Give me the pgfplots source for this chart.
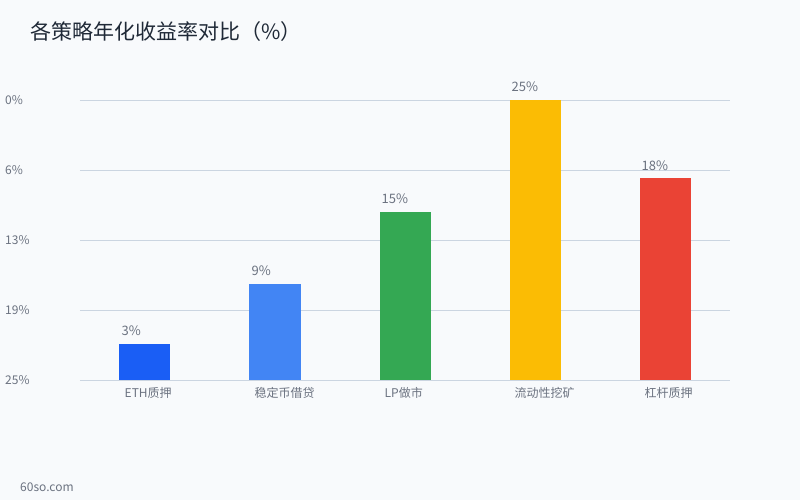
\documentclass[border=0pt]{standalone}
\usepackage{fontspec}
\setmainfont{Noto Sans CJK SC}
\usepackage{pgfplots}
\pgfplotsset{compat=1.18}
\usetikzlibrary{backgrounds}
\definecolor{bg}{HTML}{F8FAFC}
\definecolor{titlec}{HTML}{1F2937}
\definecolor{tickc}{HTML}{6B7280}
\definecolor{gridc}{HTML}{CBD5E1}
\definecolor{c1}{HTML}{1A5EF5}
\definecolor{c2}{HTML}{4285F4}
\definecolor{c3}{HTML}{34A853}
\definecolor{c4}{HTML}{FBBC04}
\definecolor{c5}{HTML}{EA4335}
\begin{document}
\begin{tikzpicture}
\begin{axis}[
  width=650pt, height=280pt, scale only axis,
  xmin=-0.5, xmax=4.5, ymin=0, ymax=25,
  enlargelimits=false, clip=false,
  axis line style={draw=none},
  major tick length=0pt,
  ymajorgrids, grid style={gridc, line width=0.8pt},
  ytick={0,6.25,12.5,18.75,25},
  yticklabels={25\%,19\%,13\%,6\%,0\%},
  yticklabel style={anchor=west, inner sep=0pt, xshift=-75pt, font=\fontsize{12}{14}\selectfont, text=tickc},
  xtick={0,1,2,3,4},
  xticklabels={ETH质押,稳定币借贷,LP做市,流动性挖矿,杠杆质押},
  xticklabel style={anchor=north west, inner sep=0pt, xshift=-20.5pt, yshift=-7pt, font=\fontsize{12}{14}\selectfont, text=tickc},
  ybar, bar width=51pt, bar shift=0pt,
  /pgf/number format/assume math mode=true,
  nodes near coords={\pgfmathprintnumber[fixed,precision=0]{\pgfplotspointmeta}\%},
  nodes near coords align={anchor=south west},
  every node near coord/.style={font=\fontsize{13}{15}\selectfont, text=tickc, inner sep=0pt, xshift=-23.5pt, yshift=8pt},
]
\addplot[fill=c1, draw=none] coordinates {(0,3.2)};
\addplot[fill=c2, draw=none] coordinates {(1,8.6)};
\addplot[fill=c3, draw=none] coordinates {(2,15.0)};
\addplot[fill=c4, draw=none] coordinates {(3,25.0)};
\addplot[fill=c5, draw=none] coordinates {(4,18.0)};
\coordinate (O) at (rel axis cs:0,0);
\end{axis}
\begin{scope}[on background layer]
\fill[bg] ([shift={(-80pt,-120pt)}]O) rectangle ([shift={(720pt,380pt)}]O);
\end{scope}
\node[anchor=west, font=\fontsize{21}{25}\selectfont, text=titlec, inner sep=0pt] at ([shift={(-50pt,348pt)}]O) {各策略年化收益率对比（\%）};
\node[anchor=west, font=\fontsize{12}{14}\selectfont, text=tickc, inner sep=0pt] at ([shift={(-60pt,-107pt)}]O) {60so.com};
\pgfresetboundingbox
\path[use as bounding box] ([shift={(-80pt,-120pt)}]O) rectangle ([shift={(720pt,380pt)}]O);
\end{tikzpicture}
\end{document}
